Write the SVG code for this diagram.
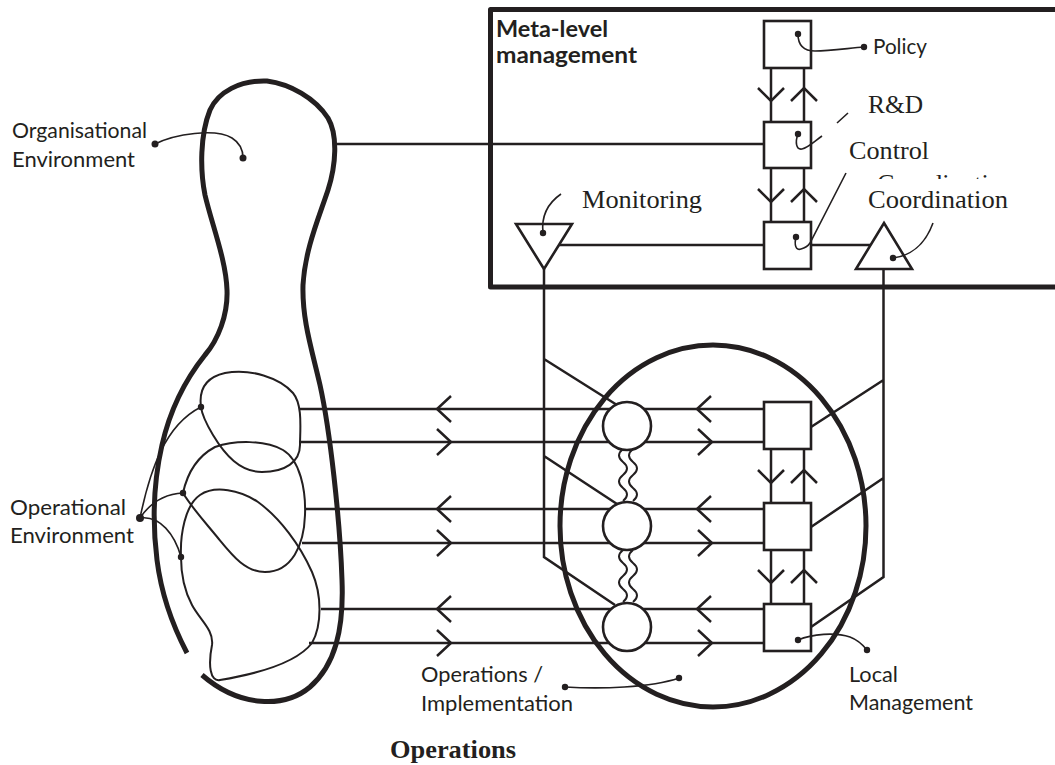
<svg xmlns="http://www.w3.org/2000/svg" width="1055" height="765" viewBox="0 0 1055 765">
<style>
.thick{fill:none;stroke:#231f20;stroke-width:5;stroke-linejoin:round}
.ln{fill:none;stroke:#231f20;stroke-width:2.5}
.thin{fill:none;stroke:#231f20;stroke-width:2}
.lead{fill:none;stroke:#231f20;stroke-width:1.6}
.box{fill:#fff;stroke:#231f20;stroke-width:2.6}
.dot{fill:#231f20}
.sans{font-family:Lato,"Open Sans","DejaVu Sans",sans-serif;font-size:22px;fill:#231f20}
.bold{font-weight:bold}
.serif{font-family:"Liberation Serif","Times New Roman",serif;font-size:26px;fill:#231f20}
</style>
<defs>
<path id="ahL" class="ln" d="M14,-13 L0,0 L14,13"/>
<path id="ahR" class="ln" d="M-14,-13 L0,0 L-14,13"/>
<path id="ahD" class="ln" d="M-13,-13 L0,0 L13,-13"/>
<path id="ahU" class="ln" d="M-13,13 L0,0 L13,13"/>
<clipPath id="ghostClip"><rect x="860" y="171" width="160" height="8"/></clipPath>
</defs>
<rect width="1055" height="765" fill="#fff"/>

<g id="connectors">
  <!-- org env to R&D -->
  <path class="ln" d="M337,144 H764"/>
  <!-- monitoring - control - coordination -->
  <path class="ln" d="M559,245 H764 M811,245 H871"/>
  <!-- meta verticals -->
  <path class="ln" d="M771,68 V122 M804,68 V122 M771,168 V222 M804,168 V222"/>
  <use href="#ahD" x="771" y="101"/><use href="#ahU" x="804" y="88"/>
  <use href="#ahD" x="771" y="202"/><use href="#ahU" x="804" y="189"/>
  <!-- monitoring channel -->
  <path class="ln" d="M544,269 V557 L615,605 M544,359 L617,405 M544,456 L617,504"/>
  <!-- coordination channel -->
  <path class="ln" d="M883.5,269 V577 L811,627 M883.5,380 L811,427 M883.5,478 L811,527"/>
  <!-- local verticals -->
  <path class="ln" d="M771,449 V503 M804,449 V503 M771,550 V604 M804,550 V604"/>
  <use href="#ahD" x="771" y="483"/><use href="#ahU" x="804" y="470"/>
  <use href="#ahD" x="771" y="583"/><use href="#ahU" x="804" y="570"/>
  <!-- horizontal flows -->
  <path class="ln" d="M299,409 H764 M299,442 H764 M305,509 H764 M302,543 H764 M321,609 H764 M309,643 H764"/>
  <use href="#ahL" x="437" y="409"/><use href="#ahR" x="451" y="442"/>
  <use href="#ahL" x="437" y="509"/><use href="#ahR" x="451" y="543"/>
  <use href="#ahL" x="437" y="609"/><use href="#ahR" x="451" y="643"/>
  <use href="#ahL" x="697" y="409"/><use href="#ahR" x="712" y="442"/>
  <use href="#ahL" x="697" y="509"/><use href="#ahR" x="712" y="543"/>
  <use href="#ahL" x="697" y="609"/><use href="#ahR" x="712" y="643"/>
  <!-- wavy links between operations -->
  <path class="thin" d="M623,449 q-8,6.5 0,13 t0,13 t0,13 t0,13 M633,449 q-8,6.5 0,13 t0,13 t0,13 t0,13"/>
  <path class="thin" d="M623,550 q-8,6.5 0,13 t0,13 t0,13 t0,13 M633,550 q-8,6.5 0,13 t0,13 t0,13 t0,13"/>
</g>

<g id="meta-level-management">
  <path class="thick" d="M1055,9.5 H490.5 V287 H1055"/>
  <text class="sans bold" x="496" y="37" textLength="112" lengthAdjust="spacingAndGlyphs">Meta-level</text>
  <text class="sans bold" x="496" y="63" textLength="141" lengthAdjust="spacingAndGlyphs">management</text>
</g>

<g id="policy">
  <rect class="box" x="764" y="21" width="47" height="47"/>
  <circle class="dot" cx="798" cy="34" r="3.2"/>
  <path class="lead" d="M798,34 C798,45 803,51 815,51 C830,51 850,48 864,47"/>
  <circle class="dot" cx="864" cy="47" r="3.2"/>
  <text class="sans" x="873" y="54" textLength="54" lengthAdjust="spacingAndGlyphs">Policy</text>
</g>

<g id="rnd">
  <rect class="box" x="764" y="122" width="47" height="46"/>
  <circle class="dot" cx="798" cy="134" r="3.2"/>
  <path class="lead" d="M798,134 C795,142 796,150 802,149 C808,148 815,141 822,136 M837,123 L848,113"/>
  <text class="serif" x="868" y="113" textLength="55" lengthAdjust="spacingAndGlyphs">R&amp;D</text>
</g>

<g id="control">
  <rect class="box" x="764" y="222" width="47" height="47"/>
  <circle class="dot" cx="796" cy="237" r="3.2"/>
  <path class="lead" d="M796,237 C794,245 796,251 801,249 C805,248 808,246 810,243 L846,173"/>
  <text class="serif" x="849" y="159" textLength="80" lengthAdjust="spacingAndGlyphs">Control</text>
  <text class="serif" x="877" y="192" clip-path="url(#ghostClip)" textLength="138" lengthAdjust="spacingAndGlyphs">Coordination</text>
</g>

<g id="monitoring">
  <path class="box" d="M516,224 H572 L544,269 Z"/>
  <circle class="dot" cx="543" cy="233" r="3.2"/>
  <path class="lead" d="M543,233 C541,215 548,203 561,194"/>
  <text class="serif" x="582" y="208" textLength="120" lengthAdjust="spacingAndGlyphs">Monitoring</text>
</g>

<g id="coordination">
  <path class="box" d="M884,223 L912,269 H856 Z"/>
  <circle class="dot" cx="893" cy="258" r="3.2"/>
  <path class="lead" d="M893,258 C910,256 925,245 933,223"/>
  <text class="serif" x="868" y="208" textLength="140" lengthAdjust="spacingAndGlyphs">Coordination</text>
</g>

<g id="organisational-environment">
  <path class="thick" d="M187,653 C175,630 162,600 157,560 C152,520 154,480 162,445 C170,410 185,380 205,355 C218,340 228,315 227,290 C226,260 212,225 205,195 C200,170 200,135 210,110 C218,92 240,80 267,81 C290,84 315,98 328,118 C338,135 336,165 328,190 C318,220 305,250 303,285 C302,320 312,350 320,385 C330,430 340,520 342,580 C344,630 335,665 310,687 C285,708 240,708 202,675"/>
  <circle class="dot" cx="155" cy="144" r="3.5"/>
  <circle class="dot" cx="243" cy="158" r="3.5"/>
  <path class="lead" d="M155,144 C175,134 215,128 232,138 C240,143 243,150 243,158"/>
  <text class="sans" x="12" y="138" textLength="135" lengthAdjust="spacingAndGlyphs">Organisational</text>
  <text class="sans" x="12" y="167" textLength="123" lengthAdjust="spacingAndGlyphs">Environment</text>
</g>

<g id="operational-environment">
  <path class="thin" d="M201,407 C199,392 203,378 225,373 C250,368 280,378 293,393 C303,405 300,430 300,445 C300,462 285,472 262,472 C240,472 225,455 213,435 C207,425 202,415 201,407 Z"/>
  <path class="thin" d="M183,493 C188,470 200,455 215,447 C235,440 265,440 283,450 C300,460 306,490 305,515 C304,545 292,572 265,572 C245,572 232,555 218,538 C205,522 192,508 183,493 Z"/>
  <path class="thin" d="M181,557 C180,535 185,505 200,495 C215,485 240,490 258,502 C280,518 300,545 312,572 C322,595 322,625 312,643 C295,665 250,675 220,680 C210,682 208,665 212,645 C214,630 200,620 192,605 C184,590 181,575 181,557 Z"/>
  <path class="lead" d="M140,518 C150,470 165,425 201,407 M140,518 C150,503 165,494 183,493 M140,518 C160,515 175,535 181,557"/>
  <circle class="dot" cx="140" cy="518" r="4"/>
  <circle class="dot" cx="201" cy="407" r="3.2"/>
  <circle class="dot" cx="183" cy="493" r="3.2"/>
  <circle class="dot" cx="181" cy="557" r="3.2"/>
  <text class="sans" x="10" y="515" textLength="116" lengthAdjust="spacingAndGlyphs">Operational</text>
  <text class="sans" x="10" y="543" textLength="124" lengthAdjust="spacingAndGlyphs">Environment</text>
</g>

<g id="operations">
  <ellipse class="thick" cx="713" cy="526" rx="153" ry="181"/>
  <circle class="dot" cx="679" cy="678" r="3.2"/>
  <circle class="dot" cx="565" cy="687" r="3.2"/>
  <path class="lead" d="M565,687 C600,689 650,688 679,678"/>
  <text class="sans" x="421" y="682" textLength="122" lengthAdjust="spacingAndGlyphs">Operations /</text>
  <text class="sans" x="421" y="711" textLength="152" lengthAdjust="spacingAndGlyphs">Implementation</text>
</g>

<g id="operation-1"><circle class="box" cx="627" cy="426" r="24"/></g>
<g id="operation-2"><circle class="box" cx="627" cy="526" r="24"/></g>
<g id="operation-3"><circle class="box" cx="627" cy="627" r="24"/></g>

<g id="local-management-1"><rect class="box" x="764" y="402" width="47" height="47"/></g>
<g id="local-management-2"><rect class="box" x="764" y="503" width="47" height="47"/></g>
<g id="local-management-3">
  <rect class="box" x="764" y="604" width="47" height="47"/>
  <circle class="dot" cx="798" cy="640" r="3.2"/>
  <circle class="dot" cx="867" cy="650" r="3.2"/>
  <path class="lead" d="M798,640 C812,634 835,632 850,637 C858,640 863,645 867,650"/>
  <text class="sans" x="849" y="682" textLength="49" lengthAdjust="spacingAndGlyphs">Local</text>
  <text class="sans" x="849" y="710" textLength="124" lengthAdjust="spacingAndGlyphs">Management</text>
</g>

<g id="caption">
  <text class="serif bold" x="390" y="758" textLength="126" lengthAdjust="spacingAndGlyphs">Operations</text>
</g>
</svg>
